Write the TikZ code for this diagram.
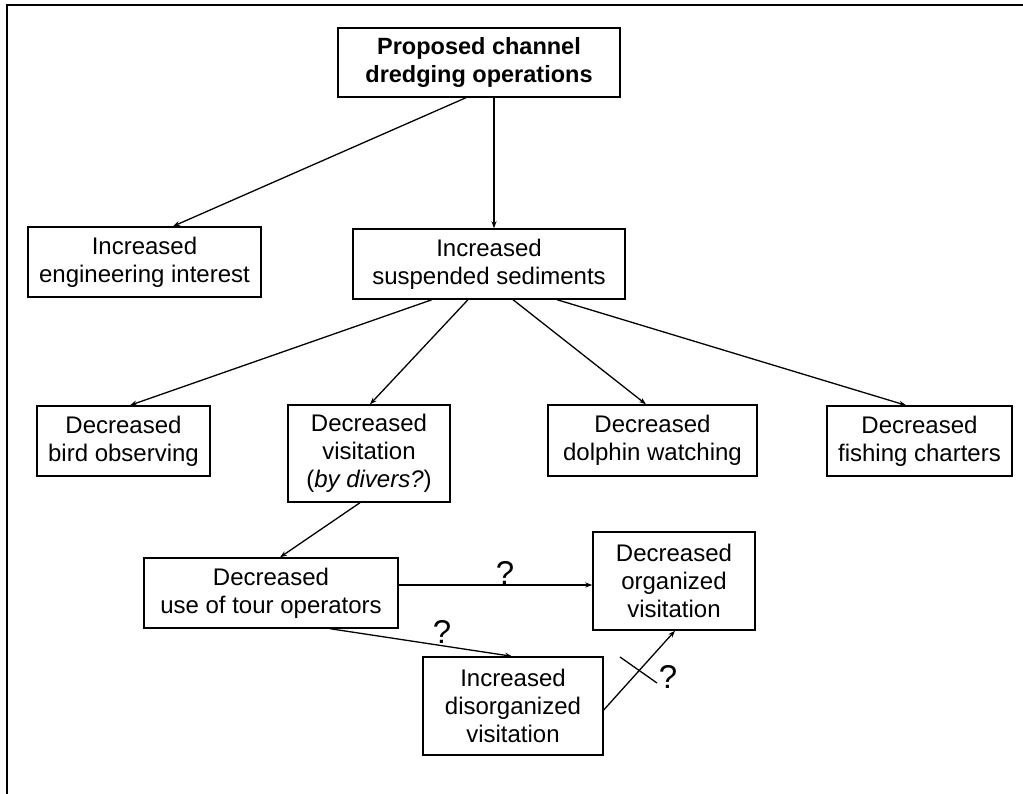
\documentclass[tikz,border=0pt]{standalone}
\usepackage{fontspec}
\setmainfont{Liberation Sans}
\usetikzlibrary{arrows.meta}
\begin{document}
\begin{tikzpicture}[x=1pt,y=-1pt,
  box/.style={draw, line width=1.4pt, inner sep=0pt, align=center,
    font=\fontsize{24}{28}\selectfont},
  link/.style={line width=1.3pt, -{Stealth[length=7pt,width=5pt]}},
  qmark/.style={inner sep=0pt, font=\fontsize{33}{33}\selectfont}]
\useasboundingbox (0,0) rectangle (1023,794);
% open frame: top and left edges
\draw[line width=2pt] (6.5,794) -- (6.5,5.5) -- (1023,5.5);

% boxes
\node[box, minimum width=282pt, minimum height=69pt, font=\fontsize{23.5}{28}\selectfont\bfseries]
  (top) at (479,62.5) {Proposed channel\\dredging operations};
\node[box, minimum width=233pt, minimum height=70pt] (eng) at (144.5,262) {Increased\\engineering interest};
\node[box, minimum width=272pt, minimum height=70pt] (sus) at (489,264) {Increased\\suspended sediments};
\node[box, minimum width=173pt, minimum height=70pt] (bird) at (123.5,441) {Decreased\\bird observing};
\node[box, minimum width=162pt, minimum height=97pt] (vis) at (369,453.5) {Decreased\\visitation\\(\textit{by divers?})};
\node[box, minimum width=209pt, minimum height=71pt] (dol) at (652.5,440.5) {Decreased\\dolphin watching};
\node[box, minimum width=185pt, minimum height=70pt] (fish) at (919.5,441) {Decreased\\fishing charters};
\node[box, minimum width=254pt, minimum height=70pt] (tour) at (271,593) {Decreased\\use of tour operators};
\node[box, minimum width=162pt, minimum height=98pt] (org) at (674,581) {Decreased\\organized\\visitation};
\node[box, minimum width=180pt, minimum height=98pt] (dis) at (513,706) {Increased\\disorganized\\visitation};

% connectors
\draw[link] ([xshift=-13pt]top.south) -- ([xshift=28.5pt]eng.north);
\draw[link] ([xshift=15pt]top.south) -- ([xshift=5pt]sus.north);
\draw[link] ([xshift=-57pt]sus.south) -- ([xshift=6.5pt]bird.north);
\draw[link] ([xshift=-21pt]sus.south) -- ([xshift=1pt]vis.north);
\draw[link] ([xshift=24pt]sus.south) -- ([xshift=-6.5pt]dol.north);
\draw[link] ([xshift=68pt]sus.south) -- ([xshift=-13.5pt]fish.north);
\draw[link] ([xshift=-9pt]vis.south) -- ([xshift=9pt]tour.north);
\draw[link] ([yshift=8pt]tour.east) -- ([yshift=-4pt]org.west);
\draw[link] ([xshift=59pt]tour.south) -- ([xshift=-1pt]dis.north);
\draw[link] ([yshift=-4pt]dis.east) -- ([xshift=1pt]org.south);

% question marks and the crossed-out link
\node[qmark] (q1) at (505,573) {?};
\node[qmark] (q2) at (442,632) {?};
\node[qmark] (q3) at (668,677) {?};
\coordinate (xa) at (620,657);
\coordinate (xb) at (657,683);
\draw[line width=1.3pt] (xa) -- (xb);
\end{tikzpicture}
\end{document}
